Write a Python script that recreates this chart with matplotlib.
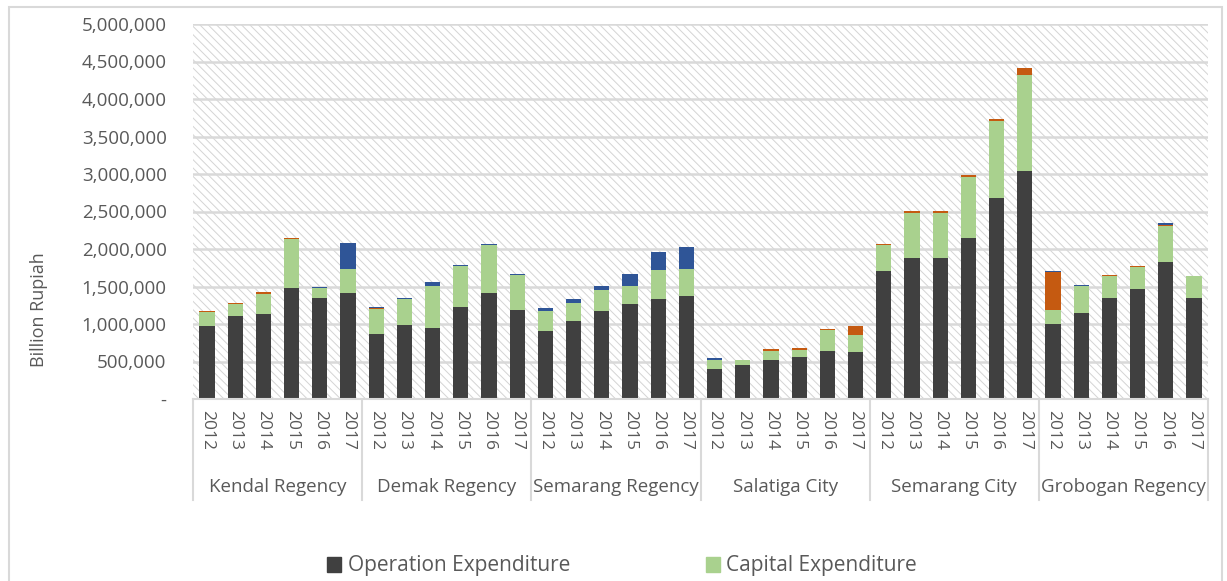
import matplotlib
matplotlib.use("Agg")
import matplotlib.pyplot as plt
from matplotlib.patches import Rectangle
from matplotlib.lines import Line2D
import numpy as np

regions = ["Kendal Regency", "Demak Regency", "Semarang Regency",
           "Salatiga City", "Semarang City", "Grobogan Regency"]
years = ["2012", "2013", "2014", "2015", "2016", "2017"]

# values in thousands, order: region by region, 2012..2017
operation = [970, 1105, 1140, 1480, 1345, 1412,
             866, 986, 950, 1225, 1412, 1190,
             901, 1039, 1172, 1261, 1328, 1376,
             400, 453, 524, 555, 639, 622,
             1702, 1880, 1880, 2146, 2680, 3040,
             1000, 1142, 1347, 1462, 1822, 1347]
capital = [185, 160, 266, 650, 133, 324,
           333, 342, 551, 542, 635, 462,
           271, 240, 275, 240, 395, 364,
           124, 71, 120, 102, 276, 226,
           351, 600, 600, 814, 1031, 1284,
           191, 360, 288, 293, 480, 288]
other_orange = [20, 18, 20, 20, 0, 0,
                20, 0, 0, 0, 0, 0,
                0, 0, 0, 0, 0, 0,
                0, 0, 22, 22, 22, 124,
                18, 22, 22, 22, 22, 89,
                498, 0, 22, 22, 18, 0]
other_blue = [0, 0, 0, 0, 22, 346,
              12, 22, 53, 22, 18, 18,
              40, 53, 54, 168, 239, 289,
              18, 0, 0, 0, 0, 0,
              0, 0, 0, 0, 0, 0,
              22, 18, 0, 0, 22, 0]

op = np.array(operation) * 1000
cap = np.array(capital) * 1000
ora = np.array(other_orange) * 1000
blu = np.array(other_blue) * 1000

plt.rcParams['font.family'] = ['Open Sans', 'DejaVu Sans']
plt.rcParams['hatch.linewidth'] = 0.7
plt.rcParams['hatch.color'] = '#D4D4D4'
txt = '#595959'
grid_c = '#D9D9D9'

W, H = 1227, 581
fig = plt.figure(figsize=(W / 100, H / 100), dpi=100)
ax = fig.add_axes([193 / W, 1 - 399 / H, (1208 - 193) / W, 375 / H])

x = np.arange(len(op))
bw = 0.54
ax.add_patch(Rectangle((0, 0), 1, 1, transform=ax.transAxes, facecolor='white',
                       hatch='\\\\\\\\', edgecolor='#D4D4D4', linewidth=0, zorder=0))
ax.bar(x, op, bw, color='#404040', zorder=2)
ax.bar(x, cap, bw, bottom=op, color='#A9D18E', zorder=2)
ax.bar(x, ora, bw, bottom=op + cap, color='#C55A11', zorder=2)
ax.bar(x, blu, bw, bottom=op + cap + ora, color='#2F5597', zorder=2)

ax.set_xlim(-0.5, len(op) - 0.5)
ax.set_ylim(0, 5000000)
ticks = np.arange(0, 5000001, 500000)
ax.set_yticks(ticks)
ax.set_yticklabels(['-'] + [f"{t:,}" for t in ticks[1:]])
ax.tick_params(axis='y', length=0, pad=19, labelsize=13.5, labelcolor=txt)
ax.set_xticks([])
for t in ticks[1:]:
    ax.axhline(t, color=grid_c, lw=1.8, zorder=1)
for s in ax.spines.values():
    s.set_visible(False)
ax.axhline(0, color=grid_c, lw=1.5, zorder=3, clip_on=False)

# two-level category axis
trans = ax.get_xaxis_transform()
for i, xi in enumerate(x):
    ax.text(xi, -0.03, years[i % 6], rotation=-90, ha='center', va='top',
            fontsize=12.5, color=txt, transform=trans)
for g, name in enumerate(regions):
    ax.text(g * 6 + 2.5, -0.235, name, ha='center', va='center',
            fontsize=13.5, color=txt, transform=trans)
for g in range(len(regions) + 1):
    ax.add_line(Line2D([g * 6 - 0.5, g * 6 - 0.5], [0, -0.27], transform=trans,
                       color=grid_c, lw=1.5, clip_on=False))

fig.text(39 / W, 1 - 310 / H, 'Billion Rupiah', rotation=90, ha='center',
         va='center', fontsize=13, color=txt)

handles = [Rectangle((0, 0), 1, 1, color='#404040'),
           Rectangle((0, 0), 1, 1, color='#A9D18E')]
fig.legend(handles, ['Operation Expenditure', 'Capital Expenditure'], ncol=2,
           loc='center', bbox_to_anchor=(622 / W, 1 - 566 / H), frameon=False,
           fontsize=15, labelcolor=txt, handlelength=0.7, handleheight=0.7,
           handletextpad=0.3, columnspacing=6.5)

fig.add_artist(Rectangle((9 / W, -0.01), (1222 - 9) / W, 1 - 7 / H + 0.01,
                         transform=fig.transFigure, fill=False,
                         edgecolor='#D9D9D9', lw=1.5))

fig.savefig('out.png', dpi=100)
